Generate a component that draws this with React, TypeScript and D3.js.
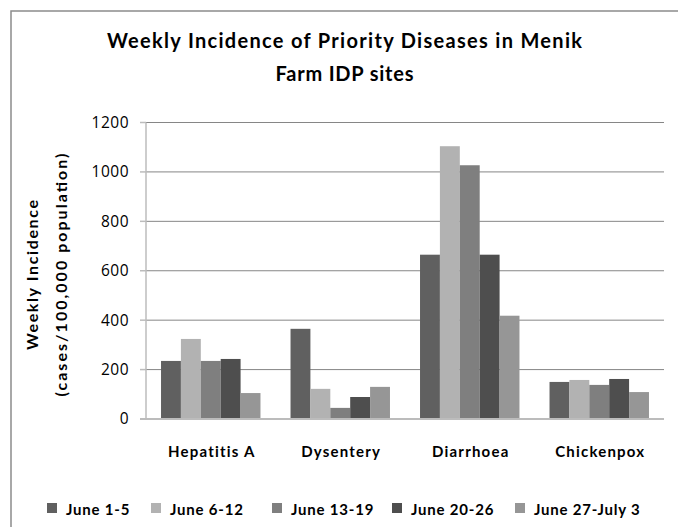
import { scaleBand, scaleLinear } from "d3";

const categories = ["Hepatitis A", "Dysentery", "Diarrhoea", "Chickenpox"];
const weeks = ["June 1-5", "June 6-12", "June 13-19", "June 20-26", "June 27-July 3"];
const june1to5 = [235, 365, 665, 150];
const june6to12 = [324, 122, 1104, 158];
const june13to19 = [235, 45, 1027, 138];
const june20to26 = [243, 89, 665, 162];
const june27toJuly3 = [105, 130, 418, 109];
const yTicks = [0, 200, 400, 600, 800, 1000, 1200];

const seriesValues = [june1to5, june6to12, june13to19, june20to26, june27toJuly3];
const colors = ["#606060", "#b2b2b2", "#7f7f7f", "#4e4e4e", "#969696"];
const legendX = [47, 151, 272, 392, 515];

const font = "Lato, 'Open Sans', sans-serif";

export default function App() {
  const width = 678;
  const height = 527;
  const plotLeft = 146;
  const plotRight = 664;

  const x = scaleBand(categories, [plotLeft, plotRight]).paddingInner(0.232).paddingOuter(0.116);
  const xs = scaleBand(weeks, [0, x.bandwidth()]);
  const y = scaleLinear([0, 1200], [419, 122.5]);

  return (
    <svg
      width={width}
      height={height}
      style={{ position: "absolute", left: 0, top: 0, background: "#fff" }}
      fontFamily={font}
    >
      <rect x={11} y={11} width={700} height={560} fill="#fff" stroke="#8c8c8c" strokeWidth={1.5} />

      <text x={344.5} y={48} textAnchor="middle" fontSize={20} fontWeight="bold" textLength={475} lengthAdjust="spacing">
        Weekly Incidence of Priority Diseases in Menik
      </text>
      <text x={344.5} y={81} textAnchor="middle" fontSize={20} fontWeight="bold" textLength={138} lengthAdjust="spacing">
        Farm IDP sites
      </text>

      {yTicks.slice(1).map((t) => (
        <line key={t} x1={plotLeft} x2={plotRight} y1={y(t)} y2={y(t)} stroke="#868686" strokeWidth={1} />
      ))}

      {seriesValues.map((vals, si) =>
        vals.map((v, ci) => (
          <rect
            key={`${si}-${ci}`}
            x={(x(categories[ci]) ?? 0) + (xs(weeks[si]) ?? 0)}
            y={y(v)}
            width={xs.bandwidth()}
            height={y(0) - y(v)}
            fill={colors[si]}
          />
        ))
      )}

      <line x1={plotLeft} x2={plotLeft} y1={y(1200)} y2={y(0)} stroke="#bcbcbc" strokeWidth={1.5} />
      <line x1={plotLeft - 6} x2={plotRight} y1={y(0)} y2={y(0)} stroke="#bcbcbc" strokeWidth={2} />
      {yTicks.map((t) => (
        <g key={t}>
          <line x1={plotLeft - 6} x2={plotLeft} y1={y(t)} y2={y(t)} stroke="#bcbcbc" strokeWidth={1.5} />
          <text x={129} y={y(t)} dy="0.35em" textAnchor="end" fontSize={15.5} fontFamily="'Open Sans', sans-serif" letterSpacing={0.5}>
            {t}
          </text>
        </g>
      ))}

      {categories.map((c) => (
        <text key={c} x={(x(c) ?? 0) + x.bandwidth() / 2 + 1} y={457} textAnchor="middle" fontSize={15} fontWeight="bold" letterSpacing={1.2}>
          {c}
        </text>
      ))}

      <g transform="translate(38,275) rotate(-90)">
        <text x={0} y={0} textAnchor="middle" fontSize={16} fontWeight="bold" textLength={150} lengthAdjust="spacing">
          Weekly Incidence
        </text>
        <text x={0} y={29} textAnchor="middle" fontSize={16} fontWeight="bold" textLength={243} lengthAdjust="spacing">
          (cases/100,000 population)
        </text>
      </g>

      {weeks.map((w, i) => (
        <g key={w}>
          <rect x={legendX[i]} y={503} width={10} height={10} fill={colors[i]} />
          <text x={legendX[i] + 19} y={515} fontSize={15} fontWeight="bold" letterSpacing={0.8}>
            {w}
          </text>
        </g>
      ))}
    </svg>
  );
}
